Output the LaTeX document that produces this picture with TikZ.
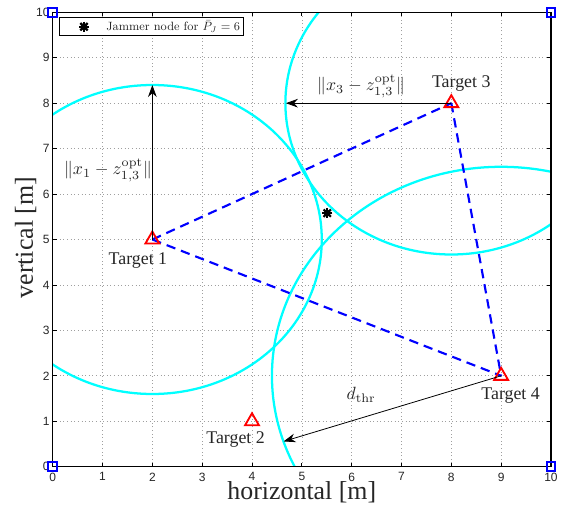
\documentclass[tikz,border=0pt]{standalone}
\usepackage{graphicx}
\usepackage{fontspec}
\newfontfamily\timesf{Liberation Serif}
\newfontfamily\helvf{Liberation Sans}
\usetikzlibrary{arrows.meta,shapes.geometric}
\definecolor{mcyan}{RGB}{0,255,255}
\definecolor{mblue}{RGB}{0,0,255}
\definecolor{mred}{RGB}{255,0,0}
\newcommand{\biglab}[1]{\scalebox{1.33}{\fontsize{10}{12}\selectfont #1}}
\tikzset{
  gridline/.style={gray!75, line width=0.5pt, dash pattern=on 0.5pt off 2.2pt},
  rangecircle/.style={mcyan, line width=1.7pt},
  linkline/.style={mblue, line width=1.6pt, dash pattern=on 7pt off 4.5pt},
  target/.style={regular polygon, regular polygon sides=3, draw=mred, line width=1.4pt, minimum size=12pt, inner sep=0pt},
  cornersq/.style={rectangle, draw=mblue, line width=1.5pt, minimum size=6.5pt, inner sep=0pt},
  distarrow/.style={black, line width=0.6pt, -{Stealth[length=9pt,width=6.5pt]}},
  tlabel/.style={font=\timesf\fontsize{13.4}{15}\selectfont, anchor=base, inner sep=0pt, text=black!85},
  mlabel/.style={anchor=base, inner sep=0pt, text=black!85},
  ticklabel/.style={font=\helvf\fontsize{9}{10}\selectfont, inner sep=0pt, text=black!85},
  axlabel/.style={font=\timesf\fontsize{19.4}{22}\selectfont, anchor=base, inner sep=0pt, text=black!85},
  dotnode/.style={circle, inner sep=0pt, minimum size=0pt},
  starline/.style={black, line width=1.7pt},
  legendbox/.style={draw, fill=white, line width=0.6pt, inner sep=0pt, text height=8pt, text depth=1.4pt, minimum height=13.5pt, anchor=west, font=\fontsize{9}{11}\selectfont, text=black!85}
}
\begin{document}
\begin{tikzpicture}[x=37.37pt, y=34.08pt]
\useasboundingbox (-39.525pt,-30.975pt) rectangle (385.725pt,350.025pt);
% grid
\foreach \i in {1,...,9} {
  \draw[gridline] (\i,0) -- (\i,10);
  \draw[gridline] (0,\i) -- (10,\i);
}
% range circles
\begin{scope}
  \clip (0,0) rectangle (10,10);
  \draw[rangecircle] (2,5) ellipse [x radius=127.06pt, y radius=115.87pt];
  \draw[rangecircle] (8,8) ellipse [x radius=124.44pt, y radius=113.49pt];
  \draw[rangecircle] (9,2) ellipse [x radius=171.90pt, y radius=156.77pt];
\end{scope}
% target positions
\coordinate (p1) at (2,5);
\coordinate (p2) at (4,1);
\coordinate (p3) at (8,8);
\coordinate (p4) at (9,2);
\draw[linkline] (p1) -- (p3);
\draw[linkline] (p3) -- (p4);
\draw[linkline] (p1) -- (p4);
\node[target] (t1) at (p1) {};
\node[target] (t2) at (p2) {};
\node[target] (t3) at (p3) {};
\node[target] (t4) at (p4) {};
% distance arrows
\coordinate (e1) at (2,8.40);
\coordinate (e3) at (4.68,8);
\coordinate (e4) at (4.632,0.556);
\draw[distarrow] (t1.center) -- (e1);
\draw[distarrow] (t3.center) -- (e3);
\draw[distarrow] (t4.center) -- (e4);
% labels
\node[tlabel] (l1) at (1.71,4.46) {Target 1};
\node[tlabel] (l2) at (3.67,0.52) {Target 2};
\node[tlabel] (l3) at (8.20,8.35) {Target 3};
\node[tlabel] (l4) at (9.19,1.48) {Target 4};
\node[mlabel] (m1) at (1.11,6.43) {\biglab{$\|x_1-z_{1,3}^{\mathrm{opt}}\|$}};
\node[mlabel] (m3) at (6.19,8.27) {\biglab{$\|x_3-z_{1,3}^{\mathrm{opt}}\|$}};
\node[mlabel] (m4) at (6.19,1.47) {\biglab{$d_{\mathrm{thr}}$}};
% jammer
\node[dotnode] (jam) at (5.51,5.58) {};
\foreach \a in {0,45,90,135} {
  \draw[starline] (jam.center) ++(\a:3.9pt) -- ++(\a+180:7.8pt);
}
\fill (jam.center) circle (2.6pt);
% legend
\node[legendbox] (legend) at (0.132,9.692) {\makebox[137.6pt][l]{\hspace{35.05pt}Jammer node for $\bar{P}_J=6$}};
\node[dotnode] (legmark) at (0.628,9.683) {};
\foreach \a in {0,45,90,135} {
  \draw[starline] (legmark.center) ++(\a:3.9pt) -- ++(\a+180:7.8pt);
}
\fill (legmark.center) circle (2.6pt);
% axes box and ticks
\draw[line width=0.8pt] (0,0) rectangle (10,10);
\foreach \i in {1,...,9} {
  \draw[line width=0.6pt] (\i,0) -- ++(0,3pt);
  \draw[line width=0.6pt] (\i,10) -- ++(0,-3pt);
  \draw[line width=0.6pt] (0,\i) -- ++(3pt,0);
  \draw[line width=0.6pt] (10,\i) -- ++(-3pt,0);
}
\foreach \i in {0,...,10} {
  \node[ticklabel, anchor=north] (xt\i) at ([yshift=-4.3pt]\i,0) {\i};
  \node[ticklabel, anchor=east] (yt\i) at ([xshift=-2.2pt]0,\i) {\i};
}
% corner squares
\node[cornersq] (s00) at (0,0) {};
\node[cornersq] (s01) at (0,10) {};
\node[cornersq] (s10) at (10,0) {};
\node[cornersq] (s11) at (10,10) {};
% axis labels
\node[axlabel] (xlab) at ([yshift=-24.6pt]5,0) {horizontal [m]};
\node[axlabel, rotate=90] (ylab) at ([xshift=-14.8pt]0,5.04) {vertical [m]};
\end{tikzpicture}
\end{document}
